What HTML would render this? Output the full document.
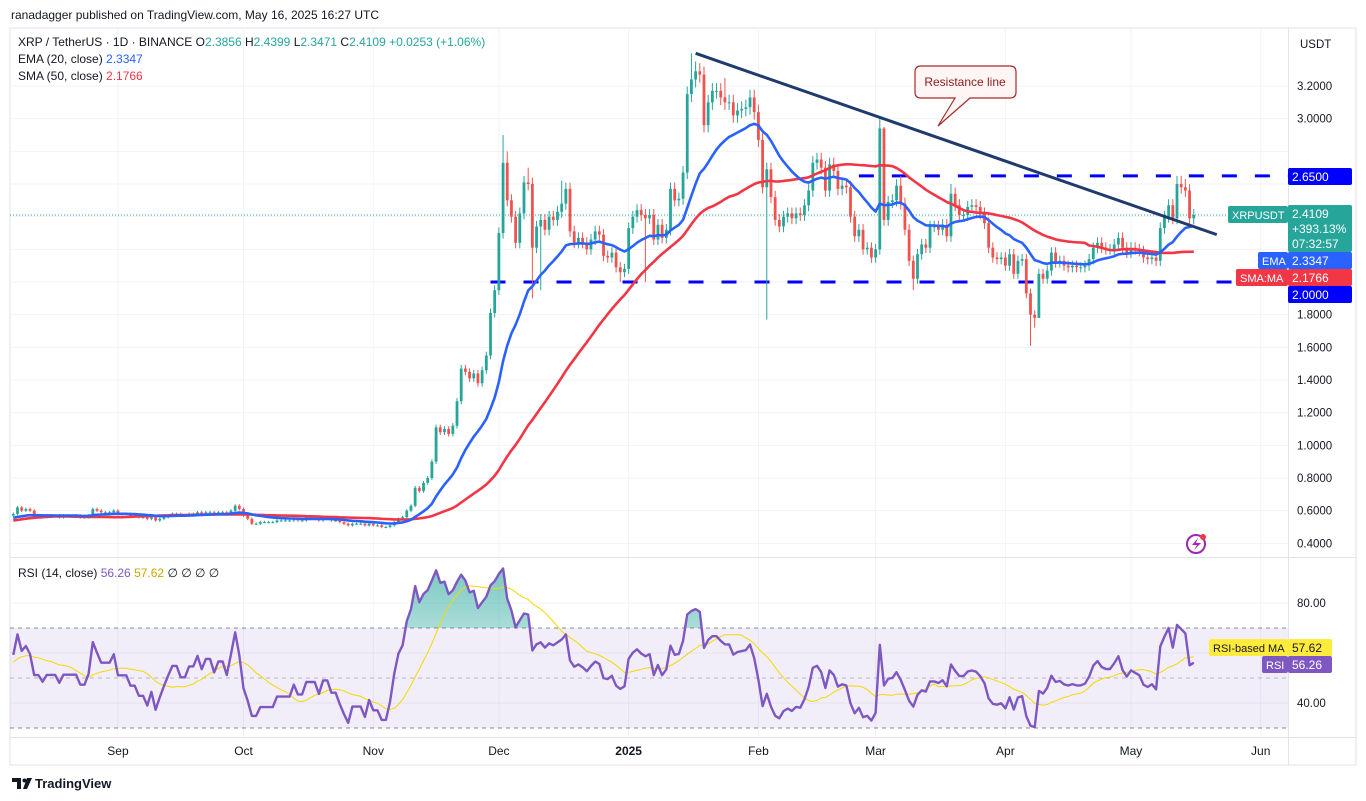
<!DOCTYPE html>
<html><head><meta charset="utf-8"><style>
body{margin:0;background:#fff;font-family:"Liberation Sans",sans-serif;}
svg{display:block}
text{font-family:"Liberation Sans",sans-serif;}
</style></head><body>
<svg id="c" width="1366" height="801" xmlns="http://www.w3.org/2000/svg">
<defs>
<clipPath id="mainClip"><rect x="10" y="28" width="1278" height="529"/></clipPath>
<clipPath id="rsiClip"><rect x="10" y="558" width="1278" height="179"/></clipPath>
<clipPath id="obClip"><rect x="10" y="558" width="1278" height="70"/></clipPath>
<linearGradient id="obGrad" x1="0" y1="0" x2="0" y2="1"><stop offset="0" stop-color="#26a69a" stop-opacity="0.6"/><stop offset="1" stop-color="#26a69a" stop-opacity="0.05"/></linearGradient>
</defs>
<text x="11" y="19" font-size="12" fill="#131722">ranadagger published on TradingView.com, May 16, 2025 16:27 UTC</text>
<rect x="10" y="28" width="1346" height="737" fill="none" stroke="#e0e3eb"/>
<g id="grid"></g>
<rect x="10" y="628" width="1278" height="100" fill="#7e57c2" fill-opacity="0.1"/>
<g id="main" clip-path="url(#mainClip)"></g>
<g id="rsi" clip-path="url(#rsiClip)"></g>
<line x1="10" y1="557.5" x2="1356" y2="557.5" stroke="#e0e3eb"/>
<line x1="10" y1="737.5" x2="1356" y2="737.5" stroke="#e0e3eb"/>
<line x1="1288.5" y1="28" x2="1288.5" y2="765" stroke="#e0e3eb"/>
<g id="axis"></g>
<g font-size="12">
<text x="18" y="46" fill="#131722">XRP / TetherUS · 1D · BINANCE  O<tspan fill="#26a69a">2.3856</tspan>  H<tspan fill="#26a69a">2.4399</tspan>  L<tspan fill="#26a69a">2.3471</tspan>  C<tspan fill="#26a69a">2.4109  +0.0253 (+1.06%)</tspan></text>
<text x="18" y="63" fill="#131722">EMA (20, close)  <tspan fill="#2962ff">2.3347</tspan></text>
<text x="18" y="80" fill="#131722">SMA (50, close)  <tspan fill="#f23645">2.1766</tspan></text>
<text x="18" y="577" fill="#131722">RSI (14, close)  <tspan fill="#7e57c2">56.26</tspan>  <tspan fill="#c9a800">57.62</tspan>  ∅  ∅  ∅  ∅</text>
</g>
<g>
<path d="M921,66 H1010 Q1016,66 1016,72 V92 Q1016,98 1010,98 H970 L938,126 L955,98 H921 Q915,98 915,92 V72 Q915,66 921,66 Z" fill="#fff5f5" stroke="#a52a2a" stroke-width="1.2"/>
<text x="965" y="86" font-size="12" fill="#8b1a1a" text-anchor="middle">Resistance line</text>
</g>
<g><circle cx="1196" cy="544" r="9" fill="none" stroke="#9c27b0" stroke-width="2"/><path d="M1198,538 L1192,545 H1197 L1194,550 L1201,543 H1196 Z" fill="#9c27b0"/><circle cx="1203" cy="537" r="3" fill="#f23645"/></g>
<g><path d="M12,778 h9 v11 h-4 v-7 h-5z" fill="#131722"/><circle cx="24.5" cy="780.5" r="2" fill="#131722"/><path d="M27,778 h5 l-5,11 h-4z" fill="#131722"/><text x="35" y="788" font-size="13" font-weight="bold" fill="#131722">TradingView</text></g>
</svg>
<script>
const warmup=[0.48,0.45,0.43,0.43,0.44,0.45,0.46,0.47,0.47,0.52,0.53,0.54,0.56,0.59,0.60,0.59,0.60,0.60,0.60,0.60,0.59,0.60,0.60,0.61,0.62,0.60,0.56,0.53,0.51,0.50,0.50,0.52,0.51,0.50,0.49,0.50,0.51,0.52,0.53,0.55,0.56,0.57,0.55,0.56,0.57,0.56,0.58,0.57,0.56,0.57];
const augCloses=[0.58,0.62,0.60,0.61,0.60,0.57,0.57,0.56,0.57,0.57,0.57,0.56,0.57,0.57,0.57,0.57,0.56,0.56,0.57,0.61,0.60,0.59,0.59,0.59,0.60];
const sepCloses=[0.58,0.58,0.58,0.57,0.57,0.56,0.56,0.55,0.56,0.54,0.55,0.56,0.57,0.58,0.58,0.57,0.57,0.58,0.58,0.59,0.58,0.59,0.59,0.58,0.59,0.59,0.58,0.60,0.63,0.61];
const octCloses=[0.57,0.55,0.52,0.52,0.53,0.53,0.53,0.53,0.54,0.54,0.54,0.54,0.55,0.54,0.54,0.55,0.55,0.55,0.54,0.55,0.55,0.54,0.54,0.53,0.52,0.51,0.52,0.52,0.52,0.51,0.52];
const novCloses=[0.51,0.51,0.50,0.50,0.51,0.53,0.55,0.56,0.60,0.63,0.74,0.72,0.77,0.80,0.90,1.11,1.08,1.10,1.07,1.12,1.27,1.47,1.45,1.41,1.44,1.38,1.46,1.55,1.81,1.95];
const decCloses=[2.30,2.73,2.50,2.40,2.24,2.42,2.61,2.60,2.21,2.34,2.38,2.32,2.40,2.38,2.43,2.48,2.57,2.31,2.24,2.27,2.24,2.20,2.26,2.31,2.29,2.16,2.15,2.18,2.09,2.06,2.08];
const janCloses=[2.33,2.40,2.44,2.41,2.39,2.41,2.26,2.35,2.27,2.32,2.57,2.50,2.51,2.67,3.15,3.24,3.29,3.27,2.96,3.10,3.17,3.17,3.13,3.10,3.10,3.02,3.05,3.06,3.07,3.13,3.04];
const febCloses=[2.87,2.58,2.69,2.52,2.38,2.34,2.40,2.42,2.39,2.42,2.41,2.47,2.56,2.73,2.75,2.70,2.56,2.72,2.68,2.57,2.59,2.58,2.40,2.28,2.32,2.20,2.21,2.15];
const marCloses=[2.20,2.94,2.38,2.49,2.50,2.59,2.48,2.32,2.13,2.02,2.17,2.23,2.21,2.34,2.34,2.32,2.35,2.28,2.54,2.47,2.41,2.41,2.46,2.47,2.46,2.42,2.36,2.21,2.15,2.14,2.15];
const aprCloses=[2.10,2.17,2.05,2.13,2.14,1.93,1.80,1.78,2.05,2.02,2.07,2.18,2.12,2.13,2.10,2.09,2.10,2.09,2.09,2.10,2.14,2.21,2.24,2.21,2.20,2.20,2.23,2.27,2.21,2.18];
const mayCloses=[2.21,2.20,2.19,2.15,2.14,2.15,2.13,2.33,2.40,2.47,2.39,2.60,2.58,2.56,2.39,2.41];
const highOverrides=[[117,2.90],[118,2.80],[123,2.70],[131,2.62],[162,3.40],[163,3.35],[170,3.25],[207,3.00],[208,2.95],[212,2.65],[224,2.60],[278,2.65],[279,2.65],[280,2.63]];
const lowOverrides=[[124,1.90],[126,1.95],[145,2.00],[151,2.00],[180,1.77],[215,1.95],[242,1.90],[243,1.61],[244,1.72],[245,1.85]];
const priceTicks=[0.4,0.6,0.8,1.0,1.2,1.4,1.6,1.8,3.0,3.2];
const rsiTicks=[40,80];
const monthLabels=["Sep","Oct","Nov","Dec","2025","Feb","Mar","Apr","May","Jun"];
const monthOffsets=[25,55,86,116,147,178,206,237,267,298];
const resistance=[[163,3.40],[287.5,2.29]];
const levels=[[202,2.65],[114,2.00]];

const NS="http://www.w3.org/2000/svg";
function el(tag,attrs,parent){const e=document.createElementNS(NS,tag);for(const k in attrs)e.setAttribute(k,attrs[k]);parent.appendChild(e);return e;}
const closes=[].concat(augCloses,sepCloses,octCloses,novCloses,decCloses,janCloses,febCloses,marCloses,aprCloses,mayCloses);
const all=warmup.concat(closes);const W=warmup.length;
const X0=13.3,DX=4.186;
const xs=i=>X0+i*DX;
const py=p=>282-(p-2)*163.33;
const ry=r=>603+(80-r)*2.5;
const main=document.getElementById('main'),rsiG=document.getElementById('rsi'),grid=document.getElementById('grid'),axis=document.getElementById('axis');

priceTicks.concat([2.0,2.2,2.4,2.6,2.8]).forEach(p=>{const l=el('line',{x1:10,x2:1288,y1:py(p),y2:py(p),stroke:'#f0f3fa'},grid);

});
[40,60,80].forEach(r=>{const l=el('line',{x1:10,x2:1288,y1:ry(r),y2:ry(r),stroke:'#f0f3fa'},grid);

});
monthOffsets.forEach((o,k)=>{const x=xs(o);const l=el('line',{x1:x,x2:x,y1:28,y2:737,stroke:'#f0f3fa'},grid);


const t=el('text',{x:x,y:755,'font-size':12,'text-anchor':'middle',fill:'#131722','font-weight':monthLabels[k]==='2025'?'bold':'normal'},axis);t.textContent=monthLabels[k];

});

const ema=[];let e=all[0];all.forEach((c,i)=>{e=i===0?c:(c-e)*2/21+e;ema.push(e);});
const sma=all.map((c,i)=>{const s=all.slice(Math.max(0,i-49),i+1);return s.reduce((a,b)=>a+b,0)/s.length;});
const rsi=[];let ag=0,al=0;all.forEach((c,i)=>{if(i===0){rsi.push(50);return;}const d=c-all[i-1];const g=Math.max(d,0),l=Math.max(-d,0);if(i<=14){ag+=g/14;al+=l/14;}else{ag=(ag*13+g)/14;al=(al*13+l)/14;}rsi.push(al===0?100:100-100/(1+ag/al));});
const rsiMa=rsi.map((r,i)=>{const s=rsi.slice(Math.max(0,i-13),i+1);return s.reduce((a,b)=>a+b,0)/s.length;});

levels.forEach(([s,p])=>{const l=el('line',{x1:xs(s),x2:1288,y1:py(p),y2:py(p),stroke:'#0000ff','stroke-width':3,'stroke-dasharray':'15 18'},main);

});
const last=closes[closes.length-1];
const cl=el('line',{x1:10,x2:1288,y1:py(last),y2:py(last),stroke:'#26a69a','stroke-dasharray':'1 2'},main);



const hiMap=Object.fromEntries(highOverrides),loMap=Object.fromEntries(lowOverrides);
closes.forEach((c,i)=>{const o=all[W+i-1];const up=c>=o;const col=up?'#26a69a':'#ef5350';
const hi=hiMap[i]!==undefined?hiMap[i]:Math.max(o,c)*1.015;const lo=loMap[i]!==undefined?loMap[i]:Math.min(o,c)*0.985;
const x=xs(i);const g=el('g',{},main);


el('line',{x1:x,x2:x,y1:py(hi),y2:py(lo),stroke:col,'stroke-width':1},g);
const t=py(Math.max(o,c)),b=py(Math.min(o,c));
el('rect',{x:x-1.4,y:t,width:2.8,height:Math.max(1,b-t),fill:col},g);});

function poly(arr,fy,color,w,parent,name){const pts=arr.slice(W).map((v,i)=>xs(i).toFixed(1)+','+fy(v).toFixed(1)).join(' ');const p=el('polyline',{points:pts,fill:'none',stroke:color,'stroke-width':w,'stroke-linejoin':'round'},parent);

return pts;}
poly(sma,py,'#f23645',2.6,main,'sma-50-line');
poly(ema,py,'#2962ff',2.6,main,'ema-20-line');
const rl=el('line',{x1:xs(resistance[0][0]),y1:py(resistance[0][1]),x2:xs(resistance[1][0]),y2:py(resistance[1][1]),stroke:'#1e3a6e','stroke-width':3},main);



[70,50,30].forEach(r=>{const l=el('line',{x1:10,x2:1288,y1:ry(r),y2:ry(r),stroke:'#787b86','stroke-dasharray':'4 4','stroke-opacity':r===50?0.5:0.9},rsiG);

});
const rpts=rsi.slice(W).map((v,i)=>xs(i).toFixed(1)+','+ry(v).toFixed(1)).join(' ');
const ob=el('polygon',{points:xs(0)+','+ry(70)+' '+rpts+' '+xs(closes.length-1)+','+ry(70),fill:'url(#obGrad)','clip-path':'url(#obClip)'},rsiG);


poly(rsiMa,ry,'#f5d800',1,rsiG,'rsi-ma-line');
poly(rsi,ry,'#7e57c2',2.4,rsiG,'rsi-line');

priceTicks.forEach(p=>{const t=el('text',{x:1297,y:py(p)+4,'font-size':11.5,fill:'#131722'},axis);t.textContent=p.toFixed(4);

});
rsiTicks.forEach(r=>{const t=el('text',{x:1297,y:ry(r)+4,'font-size':11.5,fill:'#131722'},axis);t.textContent=r.toFixed(2);

});
const ut=el('text',{x:1300,y:48,'font-size':11.5,fill:'#131722'},axis);ut.textContent='USDT';


function box(x,y,w,h,fill,txt,col,name,fs){const g=el('g',{},axis);


el('rect',{x:x,y:y,width:w,height:h,fill:fill,rx:2},g);
txt.forEach((s,k)=>{const t=el('text',{x:x+4,y:y+13+k*15,'font-size':fs||12,fill:col},g);t.textContent=s;});}
box(1288,168,64,17,'#0000ff',['2.6500'],'#fff','level-label-265');
box(1228,206,60,17,'#26a69a',['XRPUSDT'],'#fff','symbol-label',11);
box(1288,205,64,47,'#26a69a',['2.4109','+393.13%','07:32:57'],'#fff','last-price-label');
box(1258,252,30,17,'#2962ff',['EMA'],'#fff','ema-tag',11);
box(1288,252,64,17,'#2962ff',['2.3347'],'#fff','ema-value-label');
box(1236,269,52,17,'#f23645',['SMA:MA'],'#fff','sma-tag',11);
box(1288,269,64,17,'#f23645',['2.1766'],'#fff','sma-value-label');
box(1288,286,64,17,'#0000ff',['2.0000'],'#fff','level-label-200');
box(1209,639,79,17,'#ffeb3b',['RSI-based MA'],'#131722','rsi-ma-tag',11);
box(1288,639,44,17,'#ffeb3b',['57.62'],'#131722','rsi-ma-value');
box(1262,656,26,17,'#7e57c2',['RSI'],'#fff','rsi-tag',11);
box(1288,656,44,17,'#7e57c2',['56.26'],'#fff','rsi-value');
</script>
</body></html>
